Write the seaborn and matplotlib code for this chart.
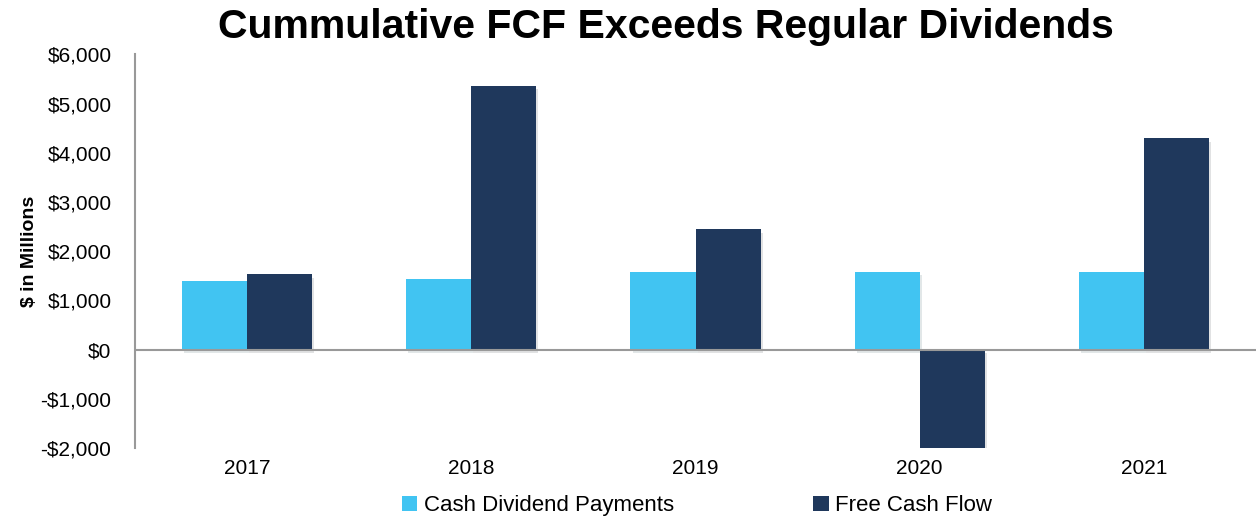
import numpy as np
import pandas as pd
import matplotlib
matplotlib.use('Agg')
import matplotlib.pyplot as plt
import matplotlib.patheffects as pe
from matplotlib.ticker import FuncFormatter, MultipleLocator
from matplotlib.patches import Patch
import seaborn as sns

# dados =======================================================================
anos = ['2017', '2018', '2019', '2020', '2021']
dividendos = [1395, 1445, 1585, 1585, 1585]
fcf = [1530, 5360, 2450, -2050, 4300]
series = ['Cash Dividend Payments', 'Free Cash Flow']
cores = ['#41C4F2', '#1F385C']

df = pd.DataFrame({
    'ano': anos * 2,
    'valor': dividendos + fcf,
    'serie': [series[0]] * len(anos) + [series[1]] * len(anos),
})

sns.set_style('white')
plt.rcParams['font.family'] = ['Liberation Sans', 'DejaVu Sans']
plt.rcParams['text.color'] = 'black'
plt.rcParams['axes.labelcolor'] = 'black'
plt.rcParams['xtick.color'] = 'black'
plt.rcParams['ytick.color'] = 'black'

fig = plt.figure(figsize=(12.56, 5.18), dpi=100)
ax = fig.add_axes([0.1075, 0.135, 0.8925, 0.76])

sns.barplot(data=df, x='ano', y='valor', hue='serie', hue_order=series,
            palette=cores, width=0.58, saturation=1, ax=ax, legend=False)

for p in ax.patches:
    p.set_linewidth(0)
    p.set_path_effects([pe.SimplePatchShadow(offset=(1.5, -2.5), alpha=0.12), pe.Normal()])

ax.set_ylim(-2000, 6000)
ax.set_xlim(-0.5, 4.5)
ax.yaxis.set_major_locator(MultipleLocator(1000))
ax.yaxis.set_major_formatter(FuncFormatter(
    lambda v, pos: ('-$' if v < 0 else '$') + f'{abs(v):,.0f}'))

for s in ['top', 'right', 'bottom']:
    ax.spines[s].set_visible(False)
ax.spines['left'].set_color('#999999')
ax.spines['left'].set_linewidth(1.5)
ax.axhline(0, color='#999999', lw=1.5, zorder=5)

ax.tick_params(axis='y', length=0, labelsize=15, pad=17)
ax.tick_params(axis='x', length=0, labelsize=15, pad=8)
ax.set_xlabel('')
ax.set_ylabel('$ in Millions', fontsize=14, fontweight='bold', labelpad=2)

fig.suptitle('Cummulative FCF Exceeds Regular Dividends', fontsize=29.5,
             fontweight='bold', x=0.53, y=0.985)

handles = [Patch(facecolor=c, edgecolor='none') for c in cores]
fig.legend(handles, series, loc='lower center', bbox_to_anchor=(0.555, -0.035),
           ncol=2, frameon=False, fontsize=16, handlelength=0.7,
           handleheight=0.7, handletextpad=0.3, columnspacing=6.25)

fig.savefig('out.png', dpi=100)
